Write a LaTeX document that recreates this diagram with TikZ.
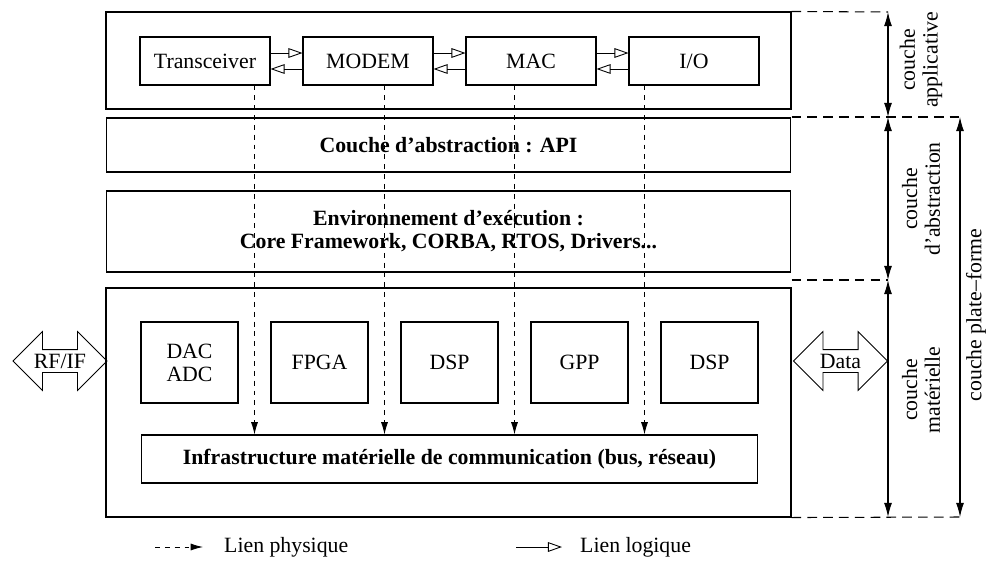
\documentclass[tikz,border=0pt]{standalone}
\usepackage{fontspec}
\setmainfont{Liberation Serif}
\usetikzlibrary{fit,calc,shapes.arrows,arrows.meta}

\begin{document}
\begin{tikzpicture}[x=0.02cm,y=-0.02cm,
  every node/.style={font=\fontsize{12.4}{13}\selectfont},
  box/.style={draw,line width=0.6pt,inner sep=0pt},
  bold/.style={font=\fontsize{12.4}{13}\selectfont\bfseries},
  blk/.style={box,minimum width=2.6cm,minimum height=0.96cm},
  hw/.style={box,minimum width=1.94cm,minimum height=1.62cm,align=center},
  phys/.style={line width=0.5pt,dash pattern=on 2.8pt off 2.8pt,-{Latex[length=7pt,width=4pt]}},
  logic/.style={line width=0.5pt,-{Triangle[open,length=8pt,width=5.5pt]}},
  dimarrow/.style={line width=0.6pt,{Latex[length=8pt,width=4.5pt]}-{Latex[length=8pt,width=4.5pt]}},
  sep/.style={line width=0.6pt,dash pattern=on 5.5pt off 3.5pt},
  bigarrow/.style={double arrow,draw,line width=0.5pt,minimum height=1.88cm,
    double arrow head extend=0.36cm,inner ysep=0pt,text height=0.36cm,text depth=0.08cm},
  layer/.style={rotate=90,align=center}]

  \useasboundingbox (0,0) rectangle (987,561);

  % couche applicative
  \node[box,fit={(106,12)(791,109)}] (app) {};
  \foreach \name/\txt [count=\i] in {trx/Transceiver,modem/MODEM,mac/MAC,io/{I/O}}{
    \node[blk] (\name) at (205+163*\i-163,61) {\txt};
  }
  \foreach \a/\b in {trx/modem,modem/mac,mac/io}{
    \draw[logic] ([yshift=0.16cm]\a.east) -- ([yshift=0.16cm]\b.west);
    \draw[logic] ([yshift=-0.16cm]\b.west) -- ([yshift=-0.16cm]\a.east);
  }

  % couche d'abstraction
  \node[box,bold,minimum width=13.7cm,minimum height=1.08cm] (api) at (448.5,145)
    {Couche d'abstraction : API};
  \node[box,bold,align=center,minimum width=13.7cm,minimum height=1.62cm] (env) at (448.5,231.5)
    {Environnement d'exécution :\\Core Framework, CORBA, RTOS, Drivers...};

  % couche materielle
  \node[box,fit={(106,288)(791,517)}] (mat) {};
  \foreach \name/\txt [count=\i] in {dac/{DAC\\ADC},fpga/FPGA,dspa/DSP,gpp/GPP,dspb/DSP}{
    \node[hw] (\name) at (189.5+130*\i-130,362.5) {\txt};
  }
  \node[box,bold,minimum width=12.34cm,minimum height=0.96cm] (infra) at (449.5,459)
    {Infrastructure matérielle de communication (bus, réseau)};

  % liens physiques
  \foreach \top/\l/\r [count=\i] in {trx/dac/fpga,modem/fpga/dspa,mac/dspa/gpp,io/gpp/dspb}{
    \coordinate (g\i) at ($(\l.east)!0.5!(\r.west)$);
    \draw[phys] (g\i |- \top.south) -- (g\i |- infra.north);
  }

  % entrees / sorties
  \node[bigarrow] (rfif) at (60,361) {RF/IF};
  \node[bigarrow] (data) at (840.5,361) {Data};

  % cotes a droite
  \coordinate (t1) at (888,12);
  \coordinate (t2) at (960,117);
  \coordinate (t3) at (888,280);
  \coordinate (t4) at (960,517);
  \draw[sep] (app.north east) -- (t1);
  \draw[sep] (t2 -| app.east) -- (t2);
  \draw[sep] (t3 -| app.east) -- (t3);
  \draw[sep] (mat.south east) -- (t4);
  \draw[dimarrow] (t1) -- (t1 |- t2);
  \draw[dimarrow] (t1 |- t2) -- (t3);
  \draw[dimarrow] (t3) -- (t3 |- t4);
  \draw[dimarrow] (t2) -- (t4);

  \node[layer] (lapp) at (921,60) {couche\\applicative};
  \node[layer] (labs) at (921,199) {couche\\d'abstraction};
  \node[layer] (lmat) at (921,390) {couche\\matérielle};
  \node[layer] (lplat) at (976,315) {couche plate--forme};

  % legende
  \coordinate (lp) at (155,547);
  \coordinate (ll) at (516,547);
  \node[anchor=west] (lphys) at (218,547) {Lien physique};
  \node[anchor=west] (llog) at (574,547) {Lien logique};
  \draw[phys] (lp) -- ([xshift=-0.3cm]lphys.west);
  \draw[logic] (ll) -- ([xshift=-0.24cm]llog.west);
\end{tikzpicture}
\end{document}
